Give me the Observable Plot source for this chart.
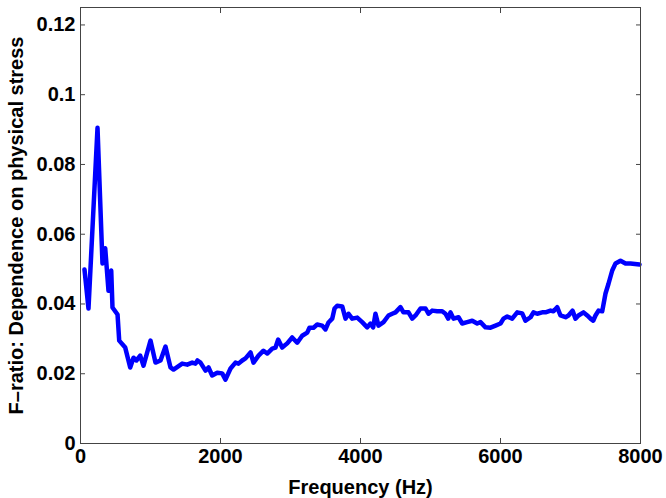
<!DOCTYPE html>
<html>
<head>
<meta charset="utf-8">
<script src="https://cdn.jsdelivr.net/npm/d3@7"></script>
<script src="https://cdn.jsdelivr.net/npm/@observablehq/plot@0.6"></script>
<style>
  html, body { margin: 0; padding: 0; background: #fff; }
  svg { font-family: "Liberation Sans", Arial, sans-serif; }
</style>
</head>
<body>
<div id="chart"></div>
<script>
const freq = [57,114,243,314,353,400,439,457,529,553,639,710,757,800,853,900,1000,1071,1143,1214,1286,1329,1453,1524,1596,1643,1671,1714,1786,1829,1881,1953,2024,2071,2143,2214,2257,2310,2357,2429,2471,2543,2614,2667,2739,2786,2824,2881,2953,3024,3096,3167,3239,3271,3329,3381,3453,3500,3543,3596,3629,3667,3739,3786,3829,3881,3953,4024,4096,4143,4181,4214,4257,4329,4400,4453,4500,4571,4614,4686,4739,4786,4857,4929,4971,5024,5096,5167,5214,5253,5286,5329,5400,5453,5524,5596,5667,5714,5786,5857,5929,6000,6043,6096,6167,6239,6310,6357,6429,6471,6524,6596,6643,6714,6757,6810,6857,6929,6971,7029,7071,7114,7186,7239,7286,7324,7357,7400,7453,7500,7543,7596,7643,7714,7786,7857,7986];
const fratio = [0.0499,0.0387,0.0905,0.0516,0.056,0.0438,0.0496,0.039,0.037,0.0295,0.0275,0.0218,0.0246,0.0238,0.0252,0.0223,0.0295,0.0232,0.0238,0.0278,0.0218,0.0212,0.0229,0.0226,0.0232,0.0229,0.0238,0.0232,0.0209,0.0218,0.0195,0.0203,0.0201,0.0183,0.0215,0.0232,0.0229,0.0238,0.0244,0.0261,0.0232,0.0252,0.0266,0.0258,0.0272,0.0275,0.0298,0.0275,0.0287,0.0304,0.0289,0.0309,0.0318,0.0332,0.0332,0.0341,0.0338,0.0327,0.0347,0.0358,0.0387,0.0395,0.0393,0.0358,0.0372,0.0358,0.0361,0.0348,0.0333,0.0344,0.0333,0.0372,0.0338,0.0348,0.0367,0.0372,0.0376,0.0391,0.0376,0.0376,0.0358,0.0367,0.0387,0.0387,0.0372,0.0381,0.0379,0.0379,0.0372,0.0358,0.0376,0.0358,0.0362,0.0344,0.0348,0.0352,0.0344,0.0348,0.0333,0.0332,0.0338,0.0344,0.0358,0.0364,0.0358,0.0376,0.0373,0.0352,0.0362,0.0376,0.0372,0.0376,0.0376,0.0381,0.0379,0.0391,0.0367,0.0362,0.0367,0.0381,0.0358,0.0367,0.0376,0.0367,0.0358,0.0352,0.0367,0.0381,0.0379,0.0430,0.0458,0.0496,0.0516,0.0524,0.0516,0.0516,0.0513];
const xTicks = [0, 2000, 4000, 6000, 8000];
const yTicks = [0, 0.02, 0.04, 0.06, 0.08, 0.1, 0.12];
const xInner = [2000, 4000, 6000];
const yInner = [0.02, 0.04, 0.06, 0.08, 0.1, 0.12];
const xLabel = "Frequency (Hz)";
const yLabel = "F\u2013ratio: Dependence on physical stress";

const data = freq.map((f, i) => ({f, v: fratio[i]}));
const fmtY = d => d === 0 ? "0" : String(+d.toFixed(2));
const tickStyle = {stroke: "#444", strokeWidth: 1};

const chart = Plot.plot({
  width: 666,
  height: 498,
  marginLeft: 80,
  marginRight: 26,
  marginTop: 7,
  marginBottom: 55,
  style: {fontSize: "20px", fontWeight: "bold", fontFamily: "'Liberation Sans', Arial, sans-serif", color: "#000", background: "#fff"},
  x: {domain: [0, 8000]},
  y: {domain: [0, 0.125]},
  marks: [
    Plot.axisX({ticks: xTicks, tickSize: 0, tickPadding: 5, tickFormat: d => String(d), label: xLabel, labelAnchor: "center", labelArrow: "none", labelOffset: 50, fill: "#000"}),
    Plot.axisY({ticks: yTicks, tickSize: 0, tickPadding: 5, tickFormat: fmtY, label: yLabel, labelAnchor: "center", labelArrow: "none", labelOffset: 72, fill: "#000"}),
    Plot.axisX({anchor: "bottom", ticks: xInner, tickSize: -5, tickFormat: () => "", label: null, ...tickStyle}),
    Plot.axisX({anchor: "top", ticks: xInner, tickSize: -5, tickFormat: () => "", label: null, ...tickStyle}),
    Plot.axisY({anchor: "left", ticks: yInner, tickSize: -5, tickFormat: () => "", label: null, ...tickStyle}),
    Plot.axisY({anchor: "right", ticks: yInner, tickSize: -5, tickFormat: () => "", label: null, ...tickStyle}),
    Plot.line(data, {x: "f", y: "v", stroke: "#0000ff", strokeWidth: 4.5, strokeLinejoin: "round", strokeLinecap: "round"}),
    Plot.frame({stroke: "#444", strokeWidth: 1})
  ]
});
document.getElementById("chart").appendChild(chart);
</script>
</body>
</html>
